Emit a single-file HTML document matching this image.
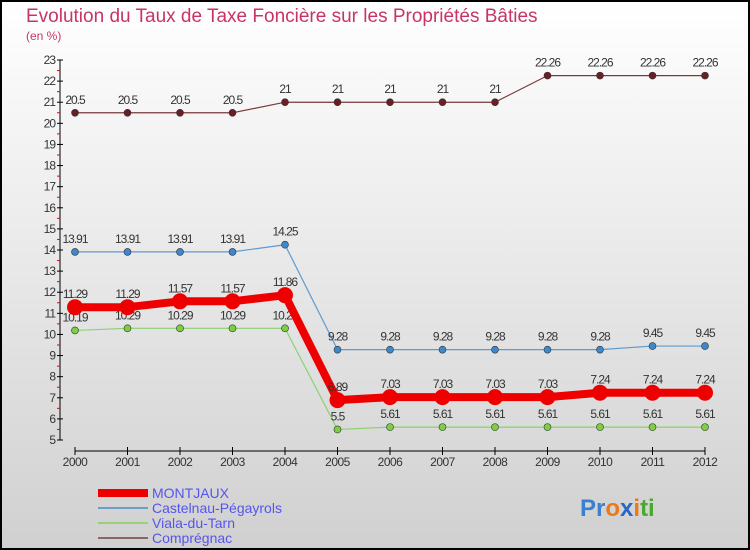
<!DOCTYPE html>
<html><head><meta charset="utf-8"><style>
body{margin:0;}
svg{display:block;font-family:"Liberation Sans",sans-serif;}
</style></head><body>
<svg id="chart" width="750" height="550">
<defs><linearGradient id="bg" x1="0" y1="0" x2="0" y2="1"><stop offset="0" stop-color="#ffffff"/><stop offset="1" stop-color="#d0d0d0"/></linearGradient></defs>
<rect x="1" y="1" width="748" height="548" fill="url(#bg)" stroke="#000" stroke-width="2"/>
<text x="26" y="22" font-size="19" fill="#c8336a">Evolution du Taux de Taxe Foncière sur les Propriétés Bâties</text>
<text x="26" y="40" font-size="12" fill="#c8336a">(en %)</text>
<g id="axes"></g>
<g id="series"></g>
<g>
<rect x="98" y="489" width="50" height="8" fill="#ee0000"/>
<text x="152" y="498" font-size="14" fill="#5555ee">MONTJAUX</text>
<rect x="98" y="507" width="50" height="2" fill="#6a9fcb"/>
<text x="152" y="513" font-size="14" fill="#5555ee">Castelnau-Pégayrols</text>
<rect x="98" y="522" width="50" height="2" fill="#99d07a"/>
<text x="152" y="528" font-size="14" fill="#5555ee">Viala-du-Tarn</text>
<rect x="98" y="537" width="50" height="2" fill="#8b6565"/>
<text x="152" y="543" font-size="14" fill="#5555ee">Comprégnac</text>
</g>
<text x="580" y="516" font-size="24" font-weight="bold"><tspan fill="#3a7fd0">Pr</tspan><tspan fill="#e87a1a">o</tspan><tspan fill="#2a66c8">x</tspan><tspan fill="#e87a1a">i</tspan><tspan fill="#4aa830">ti</tspan></text>
</svg>
<script>
const years=[2000,2001,2002,2003,2004,2005,2006,2007,2008,2009,2010,2011,2012];
const montjaux=[11.29,11.29,11.57,11.57,11.86,6.89,7.03,7.03,7.03,7.03,7.24,7.24,7.24];
const castelnau=[13.91,13.91,13.91,13.91,14.25,9.28,9.28,9.28,9.28,9.28,9.28,9.45,9.45];
const viala=[10.19,10.29,10.29,10.29,10.29,5.5,5.61,5.61,5.61,5.61,5.61,5.61,5.61];
const compregnac=[20.5,20.5,20.5,20.5,21,21,21,21,21,22.26,22.26,22.26,22.26];
const yTicks=[5,6,7,8,9,10,11,12,13,14,15,16,17,18,19,20,21,22,23];
const NS="http://www.w3.org/2000/svg";
function X(i){return 75+i*52.5;}
function Y(v){return 440-(v-5)*(380/18);}
function mk(tag,attrs,parent){const e=document.createElementNS(NS,tag);for(const k in attrs)e.setAttribute(k,attrs[k]);parent.appendChild(e);return e;}
const ax=document.getElementById('axes');
const yl=mk('line',{x1:60,y1:Y(23),x2:60,y2:Y(5),stroke:'#000'},ax);


yTicks.forEach(t=>{
 const l=mk('line',{x1:57,x2:63,y1:Y(t),y2:Y(t),stroke:'#000'},ax);
 
 
 if(t<23){const m=mk('line',{x1:57,x2:60,y1:Y(t+0.5),y2:Y(t+0.5),stroke:'#e00'},ax);
 
 }
 const tx=mk('text',{x:55,y:Y(t)+4,'font-size':12,fill:'#333','text-anchor':'end','letter-spacing':'-1'},ax);
 tx.textContent=t;
 
 
});
const xl=mk('line',{x1:X(0),y1:451,x2:X(12),y2:451,stroke:'#000'},ax);


years.forEach((yr,i)=>{
 const l=mk('line',{x1:X(i),x2:X(i),y1:447,y2:455,stroke:'#000'},ax);
 
 
 const tx=mk('text',{x:X(i),y:466,'font-size':12,fill:'#333','text-anchor':'middle','letter-spacing':'-0.5'},ax);
 tx.textContent=yr;
 
 
});
const sg=document.getElementById('series');
function draw(vals,name,color,dot,lw,r){
 const g=mk('g',{},sg);
 
 
 const p=mk('polyline',{points:vals.map((v,i)=>X(i)+','+Y(v)).join(' '),fill:'none',stroke:color,'stroke-width':lw,'stroke-linejoin':'round'},g);
 
 
 vals.forEach((v,i)=>{
  const c=mk('circle',{cx:X(i),cy:Y(v),r:r,fill:dot,stroke:lw>3?'none':'#333','stroke-width':0.6},g);
  
  
  const t=mk('text',{x:X(i),y:Y(v)-9,'font-size':12,fill:'#333','text-anchor':'middle','letter-spacing':'-1'},g);
  t.textContent=v;
  
  
 });
}
draw(compregnac,'compregnac','#7a3a3a','#6a1f25',1.2,3.5);
draw(castelnau,'castelnau','#5e9ad0','#3d88cc',1.2,3.5);
draw(viala,'viala','#8fd070','#7cd040',1.2,3.5);
draw(montjaux,'montjaux','#ee0000','#ee0000',8,8);
</script>
</body></html>
